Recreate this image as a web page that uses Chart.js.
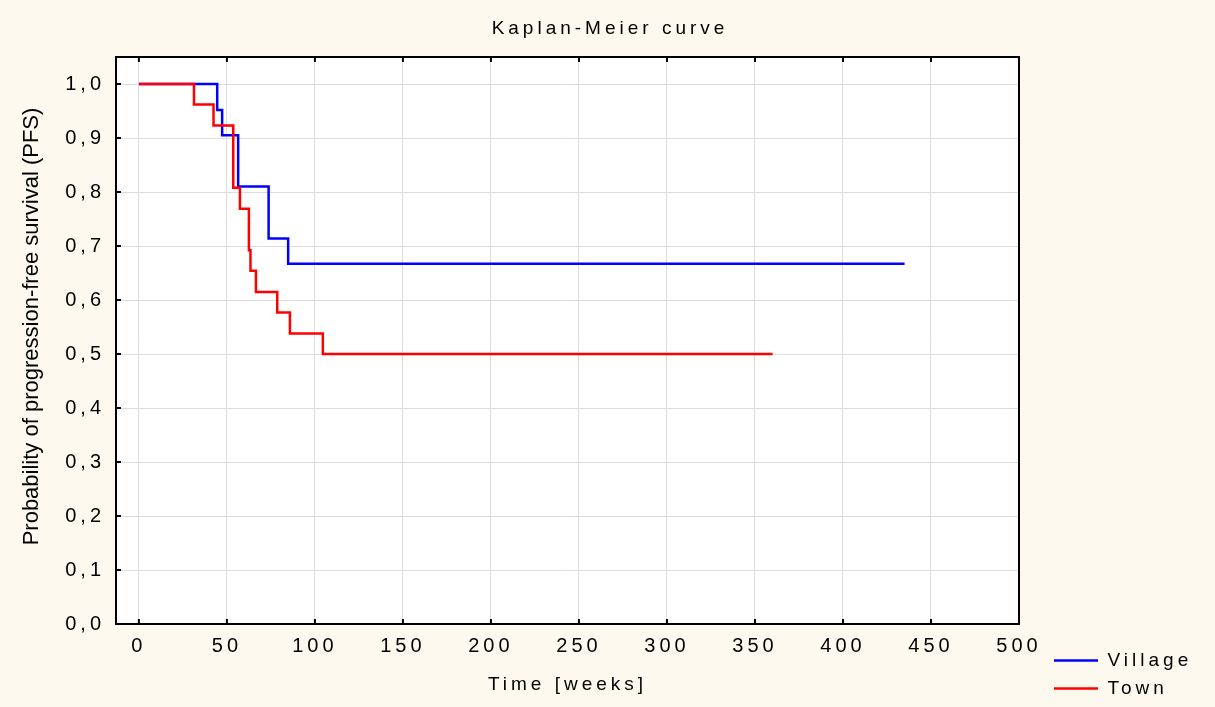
<!DOCTYPE html>
<html>
<head>
<meta charset="utf-8">
<title>Kaplan-Meier curve</title>
<script src="https://cdn.jsdelivr.net/npm/chart.js@4.4.0/dist/chart.umd.min.js"></script>
<style>
  html, body { margin: 0; padding: 0; background: #fdf9ee; }
  #wrap { width: 1215px; height: 707px; }
</style>
</head>
<body>
<div id="wrap"><canvas id="kmChart"></canvas></div>
<script>
// Kaplan-Meier estimates (week of event, survival after it)
const villageWeeks = [0, 44.5, 47.3, 56.4, 73.7, 84.8, 435];
const villageSurvival = [1, 0.952, 0.905, 0.810, 0.714, 0.667, 0.667];
const townWeeks = [0, 31.3, 42.4, 53.6, 57.4, 62.5, 63.4, 66.5, 78.6, 85.8, 104.5, 360];
const townSurvival = [1, 0.962, 0.923, 0.808, 0.769, 0.692, 0.654, 0.615, 0.577, 0.538, 0.5, 0.5];

const weekTicks = [0, 50, 100, 150, 200, 250, 300, 350, 400, 450, 500];
const survivalTicks = [0, 0.1, 0.2, 0.3, 0.4, 0.5, 0.6, 0.7, 0.8, 0.9, 1.0];

const yTitle = 'Probability of progression-free survival (PFS)';
const FONT = '"Liberation Sans", Arial, sans-serif';

function points(xs, ys) {
  return xs.map((x, i) => ({ x: x, y: ys[i] }));
}

// cream page, white plot, black frame with inner ticks, rotated y title
const framePlugin = {
  id: 'frame',
  beforeLayout(chart) {
    chart.ctx.letterSpacing = '4px';
  },
  beforeDraw(chart) {
    const { ctx, chartArea: a } = chart;
    ctx.save();
    ctx.fillStyle = '#fdf9ee';
    ctx.fillRect(0, 0, chart.width, chart.height);
    ctx.fillStyle = '#ffffff';
    ctx.fillRect(a.left, a.top, a.width, a.height);
    ctx.restore();
    ctx.letterSpacing = '4px';
  },
  afterDraw(chart) {
    const { ctx, chartArea: a } = chart;
    const x = chart.scales.x, y = chart.scales.y;
    ctx.save();
    ctx.strokeStyle = '#000';
    ctx.lineWidth = 2;
    ctx.beginPath();
    x.ticks.forEach(t => {
      const px = x.getPixelForValue(t.value);
      ctx.moveTo(px, a.bottom); ctx.lineTo(px, a.bottom - 5);
      ctx.moveTo(px, a.top); ctx.lineTo(px, a.top + 5);
    });
    y.ticks.forEach(t => {
      const py = y.getPixelForValue(t.value);
      ctx.moveTo(a.left, py); ctx.lineTo(a.left + 5, py);
    });
    ctx.stroke();
    ctx.strokeRect(a.left, a.top, a.width, a.height);

    ctx.letterSpacing = '0px';
    ctx.fillStyle = '#000';
    ctx.font = '22px ' + FONT;
    ctx.translate(38, (a.top + a.bottom) / 2 - 14);
    ctx.rotate(-Math.PI / 2);
    ctx.textAlign = 'center';
    ctx.textBaseline = 'alphabetic';
    ctx.fillText(yTitle, 0, 0);
    ctx.restore();
  }
};

Chart.defaults.font.family = FONT;
Chart.defaults.color = '#000';

new Chart(document.getElementById('kmChart'), {
  type: 'line',
  data: {
    datasets: [
      {
        label: 'Village',
        data: points(villageWeeks, villageSurvival),
        borderColor: '#0000ff',
        backgroundColor: '#0000ff',
        borderWidth: 2.5,
        stepped: true,
        pointRadius: 0,
        fill: false,
        order: 1
      },
      {
        label: 'Town',
        data: points(townWeeks, townSurvival),
        borderColor: '#ff0000',
        backgroundColor: '#ff0000',
        borderWidth: 2.5,
        stepped: true,
        pointRadius: 0,
        fill: false,
        order: 0
      }
    ]
  },
  options: {
    responsive: true,
    maintainAspectRatio: false,
    animation: false,
    layout: { padding: { left: 23, right: 18, top: 0, bottom: 0 } },
    plugins: {
      title: {
        display: true,
        text: 'Kaplan-Meier curve',
        color: '#000',
        font: { size: 19, weight: 'normal' },
        padding: { top: 17, bottom: 17.2 }
      },
      legend: {
        position: 'right',
        align: 'end',
        maxWidth: 152,
        labels: {
          usePointStyle: true,
          pointStyle: 'line',
          pointStyleWidth: 44,
          padding: 9,
          color: '#000',
          font: { size: 19 },
          sort: (a, b) => a.datasetIndex - b.datasetIndex
        }
      },
      tooltip: { enabled: false }
    },
    scales: {
      x: {
        type: 'linear',
        position: 'bottom',
        min: -13,
        max: 500,
        afterBuildTicks: s => { s.ticks = weekTicks.map(v => ({ value: v })); },
        afterFit: s => { s.height = 83; },
        ticks: {
          padding: 10,
          font: { size: 20 },
          color: '#000',
          callback: v => String(v)
        },
        grid: { color: '#dcdcdc', lineWidth: 1, drawTicks: false },
        border: { display: false },
        title: {
          display: true,
          text: 'Time [weeks]',
          color: '#000',
          font: { size: 19 },
          padding: { top: 0, bottom: 11 }
        }
      },
      y: {
        type: 'linear',
        position: 'left',
        min: 0,
        max: 1.05,
        afterBuildTicks: s => { s.ticks = survivalTicks.map(v => ({ value: v })); },
        afterFit: s => { s.width = 93; },
        ticks: {
          padding: 11,
          font: { size: 20 },
          color: '#000',
          callback: v => v.toFixed(1).replace('.', ',')
        },
        grid: { color: '#dcdcdc', lineWidth: 1, drawTicks: false },
        border: { display: false }
      },
      y2: {
        type: 'linear',
        position: 'right',
        min: 0,
        max: 1.05,
        afterFit: s => { s.width = 26; },
        ticks: { display: false },
        grid: { drawOnChartArea: false, drawTicks: false },
        border: { display: false }
      }
    }
  },
  plugins: [framePlugin]
});
</script>
</body>
</html>
